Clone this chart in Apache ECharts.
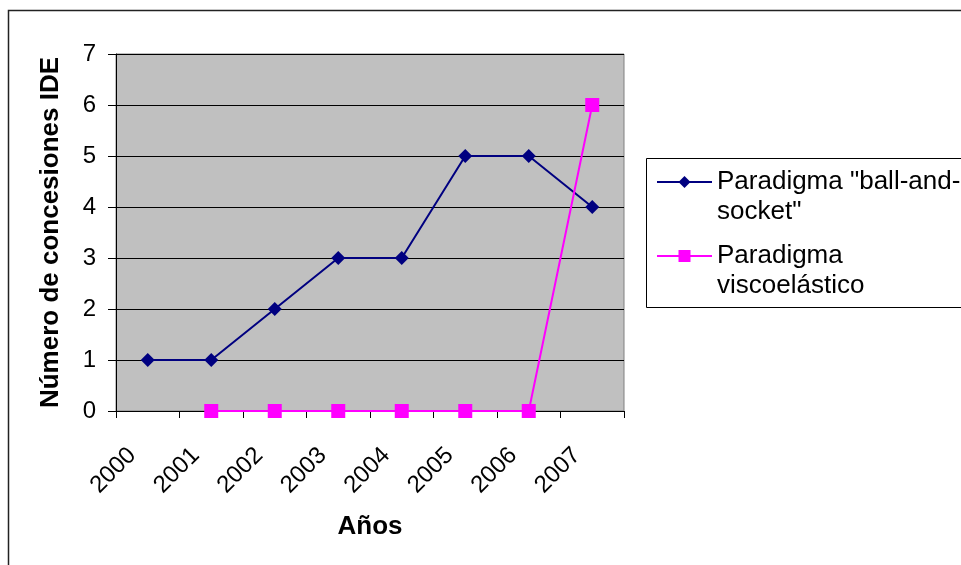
<!DOCTYPE html>
<html>
<head>
<meta charset="utf-8">
<script src="https://cdn.jsdelivr.net/npm/echarts@6/dist/echarts.min.js"></script>
<style>
  html, body { margin: 0; padding: 0; background: #fff; }
  #chart { width: 961px; height: 565px; }
</style>
</head>
<body>
<div id="chart"></div>
<script>
// Years on the category axis
const years = ['2000', '2001', '2002', '2003', '2004', '2005', '2006', '2007'];
// Number of IDE grants per year for each paradigm ('-' = no value)
const ballAndSocket = [1, 1, 2, 3, 3, 5, 5, 4];
const viscoelastico = ['-', 0, 0, 0, 0, 0, 0, 6];
// Series names shown in the legend
const seriesNames = ['Paradigma "ball-and-\nsocket"', 'Paradigma\nviscoelástico'];
// Value axis range
const yMin = 0, yMax = 7, yStep = 1;

const FONT = '"Liberation Sans", Arial, sans-serif';

const chart = echarts.init(document.getElementById('chart'), null, { renderer: 'canvas' });

chart.setOption({
  animation: false,
  backgroundColor: '#ffffff',
  textStyle: { fontFamily: FONT },
  graphic: [
    {
      // outer chart frame
      type: 'rect',
      shape: { x: 8.5, y: 10.5, width: 1000, height: 600 },
      style: { fill: 'none', stroke: '#222', lineWidth: 1.5 },
      z: 0
    },
    {
      // legend box
      type: 'rect',
      shape: { x: 646.5, y: 158.5, width: 400, height: 149 },
      style: { fill: '#fff', stroke: '#000', lineWidth: 1 },
      z: 1
    }
  ],
  grid: {
    left: 116,
    right: 337,
    top: 54,
    bottom: 154,
    show: true,
    backgroundColor: '#C0C0C0',
    borderColor: '#808080',
    borderWidth: 1
  },
  legend: {
    orient: 'vertical',
    left: 656,
    top: 137,
    padding: 0,
    itemGap: -16,
    itemWidth: 55,
    itemHeight: 15,
    z: 5,
    // a leading blank line keeps the first text line level with the icon
    formatter: name => '\n' + name,
    textStyle: {
      fontFamily: FONT,
      fontSize: 26,
      lineHeight: 30,
      color: '#000'
    },
    data: seriesNames
  },
  xAxis: {
    type: 'category',
    data: years,
    boundaryGap: true,
    name: 'Años',
    nameLocation: 'middle',
    nameGap: 103,
    nameTextStyle: { fontFamily: FONT, fontSize: 26, fontWeight: 'bold', color: '#000' },
    axisLine: { show: true, lineStyle: { color: '#000', width: 1 } },
    axisTick: { show: true, length: 7, lineStyle: { color: '#000' } },
    axisLabel: {
      rotate: 45,
      margin: 25,
      padding: [0, 22, 0, 0],
      fontFamily: FONT,
      fontSize: 24,
      color: '#000',
      interval: 0
    },
    splitLine: { show: false }
  },
  yAxis: {
    type: 'value',
    min: yMin,
    max: yMax,
    interval: yStep,
    name: 'Número de concesiones IDE',
    nameLocation: 'middle',
    nameGap: 52,
    nameTextStyle: { fontFamily: FONT, fontSize: 26, fontWeight: 'bold', color: '#000' },
    axisLine: { show: true, lineStyle: { color: '#000', width: 1 } },
    axisTick: { show: true, length: 8, lineStyle: { color: '#000' } },
    axisLabel: { margin: 20, fontFamily: FONT, fontSize: 24, color: '#000' },
    splitLine: { show: true, lineStyle: { color: '#000', width: 1 } }
  },
  series: [
    {
      name: seriesNames[0],
      type: 'line',
      data: ballAndSocket,
      symbol: 'diamond',
      symbolSize: 14,
      showSymbol: true,
      color: '#000080',
      lineStyle: { color: '#000080', width: 2 },
      itemStyle: { color: '#000080' },
      z: 3
    },
    {
      name: seriesNames[1],
      type: 'line',
      data: viscoelastico,
      symbol: 'rect',
      symbolSize: 14,
      showSymbol: true,
      color: '#FF00FF',
      lineStyle: { color: '#FF00FF', width: 2 },
      itemStyle: { color: '#FF00FF' },
      z: 4
    }
  ]
});
</script>
</body>
</html>
